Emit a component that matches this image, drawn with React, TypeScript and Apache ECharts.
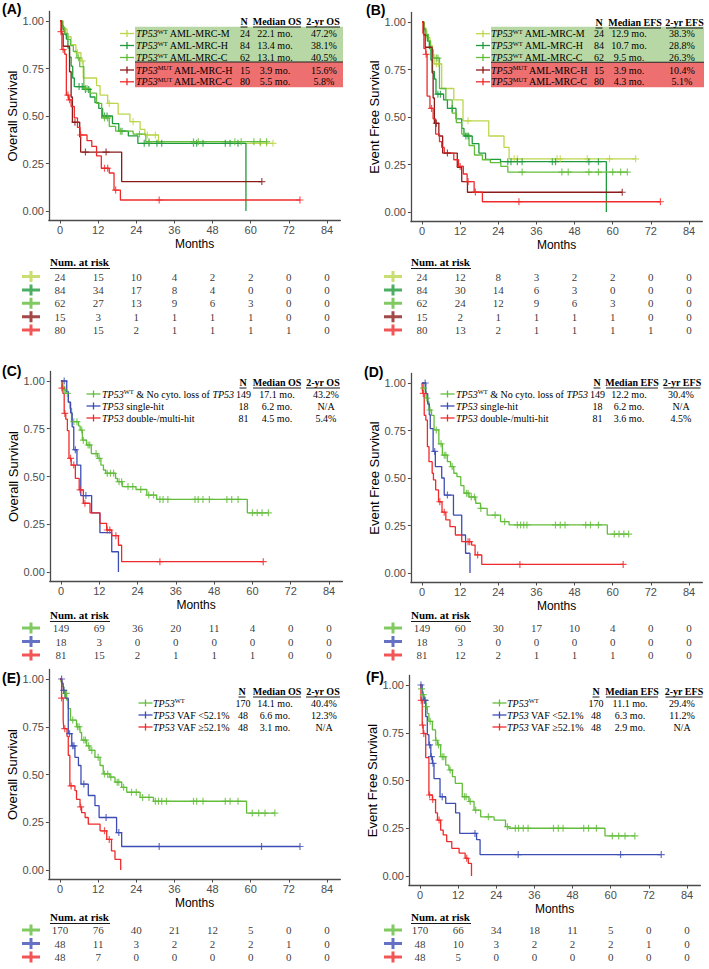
import React, { useEffect, useRef } from "react";
import * as echarts from "echarts";

// ---------- shared ticks ----------
const MONTH_TICKS = [0, 12, 24, 36, 48, 60, 72, 84];
const SURV_TICKS = [0, 0.25, 0.5, 0.75, 1];
const XMIN = -3.5;
const XMAX = 88.2;

// ---------- Panel A (OS by AML-MRC subgroup) ----------
const A_M = [[0,1],[1,0.958],[2.2,0.917],[3.5,0.875],[5,0.833],[6.6,0.79],[7.3,0.70],[11.5,0.66],[12.6,0.61],[15,0.566],[18.3,0.51],[22,0.47],[25.2,0.43],[26.7,0.40],[31,0.356],[67,0.356]];
const A_M_C = [5.5,7,15.5,23,27.5,30,63,65,67];
const A_H = [[0,1],[0.5,0.976],[1,0.952],[1.5,0.929],[2,0.905],[2.5,0.857],[3,0.81],[3.5,0.762],[4,0.70],[4.5,0.655],[7.5,0.64],[9.5,0.60],[11,0.57],[12.2,0.54],[13.4,0.50],[16.5,0.46],[18.5,0.42],[21.5,0.395],[24.5,0.356],[58.5,0]];
const A_H_C = [6,7,8,9,14,14.8,19.5,26.5,28,30.5,32,42,43,45,52,53.5,56];
const A_C = [[0,1],[0.8,0.968],[1.5,0.935],[2.5,0.903],[3.3,0.87],[4.2,0.84],[5.3,0.806],[6.2,0.76],[7.5,0.645],[9.5,0.62],[11.5,0.566],[13.1,0.49],[15.5,0.445],[17.5,0.42],[23,0.405],[27,0.365],[65,0.365]];
const A_C_C = [5.8,8,8.5,14,15,19,25,28,42,43.5,55,57,61,63,65];
const A_MH = [[0,1],[0.5,0.933],[1,0.867],[3,0.733],[3.5,0.6],[3.9,0.467],[6.2,0.39],[6.5,0.31],[19.4,0.155],[63.5,0.155]];
const A_MH_C = [4.7,8,14.5,63.5];
const A_MC = [[0,1],[0.3,0.944],[0.6,0.85],[1.5,0.825],[2,0.61],[2.7,0.585],[3.5,0.55],[4.5,0.49],[5.5,0.44],[6.3,0.40],[8.5,0.37],[10,0.34],[11.5,0.29],[13,0.225],[15.5,0.20],[17,0.11],[19,0.058],[75.5,0.058]];
const A_MC_C = [0.3,1,2.5,3,6.5,14,15,17.5,31.2,75.5];
const A_RISK = [[24,15,10,4,2,2,0,0],[84,34,17,8,4,0,0,0],[62,27,13,9,6,3,0,0],[15,3,1,1,1,1,0,0],[80,15,2,1,1,1,1,0]];
const AB_LABELS = ["{i|TP53}{s|WT}{r| AML-MRC-M}","{i|TP53}{s|WT}{r| AML-MRC-H}","{i|TP53}{s|WT}{r| AML-MRC-C}","{i|TP53}{s|MUT}{r| AML-MRC-H}","{i|TP53}{s|MUT}{r| AML-MRC-C}"];
const AB_N = ["24","84","62","15","80"];
const A_MED = ["22.1 mo.","13.4 mo.","13.1 mo.","3.9 mo.","5.5 mo."];
const A_YR = ["47.2%","38.1%","40.5%","15.6%","5.8%"];

// ---------- Panel B (EFS by AML-MRC subgroup) ----------
const B_M = [[0,1],[0.7,0.958],[1.5,0.917],[2.5,0.875],[3.3,0.83],[3.8,0.78],[6.2,0.65],[10,0.59],[12.9,0.48],[21,0.40],[25.8,0.34],[27.4,0.28],[67.2,0.28]];
const B_M_C = [4.5,5.2,14.5,29,30,42.5,43.5,52,59,67.2];
const B_H = [[0,1],[0.5,0.964],[1,0.93],[1.7,0.9],[2.3,0.86],[2.8,0.80],[3.3,0.74],[3.9,0.70],[4.4,0.62],[6.8,0.59],[8,0.545],[10.7,0.49],[12.5,0.44],[13.2,0.40],[15.8,0.36],[17.9,0.31],[20,0.277],[24.7,0.265],[58,0]];
const B_H_C = [5,5.8,9.5,13.8,14.5,27,28,30,31.5,41,42,52.5,55.5];
const B_C = [[0,1],[0.6,0.968],[1.2,0.935],[2,0.90],[2.7,0.855],[3.5,0.81],[5.5,0.65],[7.5,0.59],[9.5,0.52],[10.8,0.47],[12.5,0.41],[14.8,0.35],[16.5,0.30],[19,0.275],[21.5,0.26],[24.8,0.24],[27,0.21],[64.6,0.21]];
const B_C_C = [4.5,5,31.5,44,46,52.5,55.5,60,62.5,64.6];
const B_MH = [[0,1],[0.5,0.933],[1,0.867],[3.2,0.733],[3.5,0.6],[3.9,0.467],[5.3,0.40],[6.5,0.31],[11.1,0.235],[12.5,0.16],[14.3,0.104],[63,0.104]];
const B_MH_C = [4.5,8,63];
const B_MC = [[0,1],[0.3,0.94],[0.6,0.86],[1.2,0.83],[1.6,0.61],[2.5,0.545],[3.5,0.49],[4.3,0.41],[5.5,0.37],[6.2,0.34],[7,0.31],[10,0.275],[11.5,0.24],[13,0.2],[14.2,0.16],[16.4,0.105],[19,0.054],[75,0.054]];
const B_MC_C = [1.3,3,12,14.5,16.8,30.5,75];
const B_RISK = [[24,12,8,3,2,2,0,0],[84,30,14,6,3,0,0,0],[62,24,12,9,6,3,0,0],[15,2,1,1,1,1,0,0],[80,13,2,1,1,1,1,0]];
const B_MED = ["12.9 mo.","10.7 mo.","9.5 mo.","3.9 mo.","4.3 mo."];
const B_YR = ["38.3%","28.8%","26.3%","10.4%","5.1%"];

// ---------- Panel C (OS by hit status) ----------
const C_G = [[0,1],[0.5,0.973],[1,0.953],[1.5,0.935],[2.3,0.89],[2.8,0.857],[3.3,0.787],[5.5,0.765],[6,0.743],[6.7,0.69],[8,0.665],[9.5,0.62],[11.5,0.595],[12.5,0.56],[13.3,0.534],[14,0.517],[17.1,0.49],[17.7,0.473],[19.2,0.447],[23.5,0.432],[26.9,0.403],[30,0.38],[58.4,0.31],[65,0.31]];
const C_G_C = [1.2,2,4,5,6.5,7,8.5,9,11,12,14.5,15.5,16.5,18.2,19,21,22.5,25,27.5,29,31,32,33.5,42,43,44.5,46.5,52,53.5,55.5,60,61.5,63,65];
const C_B = [[0,1],[1.8,0.944],[2.3,0.889],[3,0.833],[3.5,0.76],[4,0.64],[5,0.56],[6.2,0.40],[9.6,0.31],[12.2,0.206],[15.9,0.106],[18,0]];
const C_B_C = [1,4.5,7.8];
const C_R = [[0,1],[0.3,0.963],[0.6,0.935],[1,0.83],[1.5,0.80],[2,0.74],[2.5,0.595],[3.2,0.56],[4.5,0.49],[5.7,0.43],[7,0.36],[9.1,0.31],[12.2,0.255],[14.3,0.22],[15.9,0.19],[18,0.14],[19,0.054],[63.4,0.054]];
const C_R_C = [0.3,1.2,3,4,6,7.5,14.5,15.3,17.2,31,63.4];
const C_RISK = [[149,69,36,20,11,4,0,0],[18,3,0,0,0,0,0,0],[81,15,2,1,1,1,0,0]];
const CD_LABELS = ["{i|TP53}{s|WT}{r| & No cyto. loss of }{i|TP53}","{i|TP53}{r| single-hit}","{i|TP53}{r| double-/multi-hit}"];
const CD_N = ["149","18","81"];
const C_MED = ["17.1 mo.","6.2 mo.","4.5 mo."];
const C_YR = ["43.2%","N/A","5.4%"];

// ---------- Panel D (EFS by hit status) ----------
const D_G = [[0,1],[0.5,0.973],[1,0.954],[1.3,0.92],[1.8,0.90],[2.2,0.858],[3,0.83],[3.8,0.753],[5.3,0.68],[6.4,0.62],[8,0.586],[9,0.56],[10,0.525],[11,0.507],[12.2,0.46],[13.2,0.42],[14.8,0.40],[16.9,0.367],[18.4,0.34],[20.5,0.305],[24.7,0.27],[27.4,0.253],[58.3,0.205],[65,0.205]];
const D_G_C = [0.5,1.5,2.5,4.5,6,7,7.5,9.5,14,14.5,15.5,16.5,18.5,23,26,30,31,32,33,42,43.5,45,51.5,53,55.5,60.5,62,63.5,65];
const D_B = [[0,1],[1.2,0.944],[1.8,0.889],[2.3,0.833],[2.6,0.76],[3.5,0.64],[4.2,0.56],[6.2,0.50],[7,0.41],[9.9,0.305],[12.5,0.2],[13.7,0.104],[15.1,0]];
const D_B_C = [1,4,8];
const D_R = [[0,1],[0.1,0.963],[0.3,0.945],[0.7,0.83],[1.2,0.805],[1.7,0.665],[2.2,0.586],[3.2,0.525],[3.6,0.49],[4.3,0.437],[5.2,0.375],[6.3,0.32],[7.5,0.28],[8.8,0.244],[10.5,0.2],[12.5,0.165],[15.6,0.147],[16.7,0.095],[18.8,0.045],[63.3,0.045]];
const D_R_C = [0.4,5.6,7,14.5,15,17.5,30.8,63.3];
const D_RISK = [[149,60,30,17,10,4,0,0],[18,3,0,0,0,0,0,0],[81,12,2,1,1,1,0,0]];
const D_MED = ["12.2 mo.","6.2 mo.","3.6 mo."];
const D_YR = ["30.4%","N/A","4.5%"];

// ---------- Panel E (OS by VAF) ----------
const E_G = [[0,1],[0.3,0.985],[0.8,0.96],[1.2,0.925],[2.1,0.89],[2.6,0.845],[3.3,0.785],[5.2,0.75],[6.3,0.72],[6.8,0.68],[8.4,0.65],[9.4,0.626],[11,0.59],[12.6,0.547],[13.6,0.503],[15.7,0.486],[17.3,0.46],[19.4,0.433],[21,0.407],[25.2,0.38],[29.4,0.36],[58.7,0.298],[67.6,0.298]];
const E_G_C = [1.5,2,4,5.5,6,7.5,8,9,10,12,14,15,16,18,18.5,20,22.5,24,26,28,30,31,32,33.5,42,43,45,52,53.5,56,60.5,62.5,64.5,67.6];
const E_B = [[0,1],[0.6,0.977],[1,0.94],[1.6,0.9],[2.6,0.714],[3.7,0.65],[4.7,0.59],[5.8,0.547],[6.6,0.45],[8.9,0.39],[11,0.337],[12.3,0.275],[17.8,0.196],[19.4,0.123],[75.5,0.123]];
const E_B_C = [0.5,1.2,3,4,4.4,7.5,14.5,18.5,31.2,63.4,75.5];
const E_R = [[0,1],[0.5,0.9],[1,0.785],[1.2,0.74],[2.2,0.70],[2.6,0.6],[3.1,0.44],[4.7,0.416],[5.2,0.37],[6.3,0.33],[6.8,0.30],[7.9,0.275],[8.9,0.24],[12.6,0.205],[14.7,0.16],[16.2,0.1],[17.3,0.056],[19.1,0]];
const E_R_C = [0.5,1.5,3.5,6.5,14,15.5];
const E_RISK = [[170,76,40,21,12,5,0,0],[48,11,3,2,2,2,1,0],[48,7,0,0,0,0,0,0]];
const EF_LABELS = ["{i|TP53}{s|WT}","{i|TP53}{r| VAF <52.1%}","{i|TP53}{r| VAF ≥52.1%}"];
const EF_N = ["170","48","48"];
const E_MED = ["14.1 mo.","6.6 mo.","3.1 mo."];
const E_YR = ["40.4%","12.3%","N/A"];

// ---------- Panel F (EFS by VAF) ----------
const F_G = [[0,1],[0.4,0.98],[0.8,0.95],[1.3,0.92],[1.8,0.887],[2.3,0.85],[2.8,0.81],[3.9,0.765],[4.9,0.71],[5.5,0.686],[6.5,0.625],[8.1,0.58],[9.1,0.555],[10.2,0.52],[11.1,0.485],[13.3,0.415],[15.4,0.39],[17,0.345],[19.1,0.31],[23.3,0.293],[26.9,0.258],[28,0.25],[58.2,0.21],[67.6,0.21]];
const F_G_C = [0.5,1,1.5,2,3.2,5,5.8,7,7.5,9.5,14,14.5,15.8,17.5,21.5,27.5,30,31,32.5,34,42,43.5,45,51.5,53,55.5,60.5,62.5,64.5,67.6];
const F_B = [[0,1],[0.7,0.958],[1,0.92],[1.8,0.835],[2.3,0.74],[2.8,0.686],[3.4,0.625],[3.9,0.59],[4.4,0.51],[6.3,0.415],[8.1,0.38],[11.2,0.33],[12.5,0.223],[17.8,0.19],[18.9,0.112],[75.9,0.112]];
const F_B_C = [0.3,1.3,1.6,3,3.6,4.1,7,17.3,30.9,63.1,75.9];
const F_R = [[0,1],[0.3,0.92],[0.7,0.79],[1,0.746],[1.8,0.62],[2.8,0.424],[3.9,0.40],[4.9,0.33],[5.5,0.293],[6.5,0.24],[7.3,0.215],[8.4,0.18],[10,0.145],[12.3,0.12],[14.2,0.093],[15.2,0.066],[16.2,0]];
const F_R_C = [0.4,0.8,1.2,3,4,6,14.7];
const F_RISK = [[170,66,34,18,11,5,0,0],[48,10,3,2,2,2,1,0],[48,5,0,0,0,0,0,0]];
const F_MED = ["11.1 mo.","6.3 mo.","2.9 mo."];
const F_YR = ["29.4%","11.2%","N/A"];

// ---------- styles ----------
const SANS = '"Liberation Sans", Arial, sans-serif';
const SERIF = '"Liberation Serif", "Times New Roman", serif';
const C_LIGHT = "#bcd64c";
const C_DARKG = "#1f9a3c";
const C_MIDG = "#62bd3a";
const C_DARKR = "#8c1b1b";
const C_RED = "#ef2a2a";
const C_BLUE = "#3d4db5";
const BG_GREEN = "#b7d8a4";
const BG_RED = "#ee6f6f";
const AXIS_COL = "#4a4a4a";
const PLUS = "path://M2.9,0H4.1V2.9H7V4.1H4.1V7H2.9V4.1H0V2.9H2.9Z";
const RISK_MARK = "path://M0,4H7.5V0H10.5V4H18V7H10.5V11H7.5V7H0Z";

const RICH = {
  i: { fontFamily: SERIF, fontStyle: "italic", fontSize: 10, lineHeight: 12, fill: "#000" },
  s: { fontFamily: SERIF, fontSize: 6.5, verticalAlign: "top", fill: "#000" },
  r: { fontFamily: SERIF, fontSize: 10, lineHeight: 12, fill: "#000" },
};

function survAt(pts: number[][], t: number) {
  let s = pts[0][1];
  for (const p of pts) {
    if (p[0] <= t) s = p[1];
    else break;
  }
  return s;
}

const panels: any[] = [
  {
    tag: "(A)", lx: 2, ly: 9, x0: 60, x84: 327, y1: 21, y0: 211, yTitle: "Overall Survival",
    curves: [
      { pts: A_M, cens: A_M_C, color: C_LIGHT }, { pts: A_H, cens: A_H_C, color: C_DARKG },
      { pts: A_C, cens: A_C_C, color: C_MIDG }, { pts: A_MH, cens: A_MH_C, color: C_DARKR },
      { pts: A_MC, cens: A_MC_C, color: C_RED },
    ],
    risk: A_RISK, rowY0: 276.5, rowStep: 13.4, rtx: 50, rty: 262, mkX: 31,
    lg: { hy: 21, rows: [33.5, 45.5, 57.5, 70, 81.8], mk: 127, tx: 136, hdr: [244, 277, 323], val: [245, 275, 324], hw: [7, 48, 34],
      head: ["N", "Median OS", "2-yr OS"], labels: AB_LABELS, n: AB_N, med: A_MED, yr: A_YR,
      bg: { x1: 135, x2: 343, y1: 26.7, ys: 62, y2: 87.3 } },
  },
  {
    tag: "(B)", lx: 366, ly: 10, x0: 422, x84: 689, y1: 22, y0: 212, yTitle: "Event Free Survival",
    curves: [
      { pts: B_M, cens: B_M_C, color: C_LIGHT }, { pts: B_H, cens: B_H_C, color: C_DARKG },
      { pts: B_C, cens: B_C_C, color: C_MIDG }, { pts: B_MH, cens: B_MH_C, color: C_DARKR },
      { pts: B_MC, cens: B_MC_C, color: C_RED },
    ],
    risk: B_RISK, rowY0: 276.5, rowStep: 13.4, rtx: 411, rty: 262, mkX: 393,
    lg: { hy: 22, rows: [33.7, 45.5, 57.5, 70, 81.8], mk: 483, tx: 491, hdr: [599, 635, 684.5], val: [599, 629, 682], hw: [7, 52, 37],
      head: ["N", "Median EFS", "2-yr EFS"], labels: AB_LABELS, n: AB_N, med: B_MED, yr: B_YR,
      bg: { x1: 491, x2: 704, y1: 26.7, ys: 62.3, y2: 87.3 } },
  },
  {
    tag: "(C)", lx: 2, ly: 371, x0: 61, x84: 329, y1: 381, y0: 572, yTitle: "Overall Survival",
    curves: [
      { pts: C_G, cens: C_G_C, color: C_MIDG }, { pts: C_B, cens: C_B_C, color: C_BLUE },
      { pts: C_R, cens: C_R_C, color: C_RED },
    ],
    risk: C_RISK, rowY0: 628, rowStep: 13.5, rtx: 50, rty: 615, mkX: 31,
    lg: { hy: 382, rows: [394, 406, 418], mk: 93.5, tx: 102, hdr: [243, 277, 323], val: [243.5, 277, 326], hw: [7, 48, 34],
      head: ["N", "Median OS", "2-yr OS"], labels: CD_LABELS, n: CD_N, med: C_MED, yr: C_YR },
  },
  {
    tag: "(D)", lx: 364, ly: 372, x0: 422, x84: 689, y1: 383, y0: 573, yTitle: "Event Free Survival",
    curves: [
      { pts: D_G, cens: D_G_C, color: C_MIDG }, { pts: D_B, cens: D_B_C, color: C_BLUE },
      { pts: D_R, cens: D_R_C, color: C_RED },
    ],
    risk: D_RISK, rowY0: 628, rowStep: 13.5, rtx: 411, rty: 615, mkX: 393,
    lg: { hy: 382, rows: [394, 406, 418], mk: 447.5, tx: 456, hdr: [597, 632, 682], val: [597.5, 629, 681], hw: [7, 52, 37],
      head: ["N", "Median EFS", "2-yr EFS"], labels: CD_LABELS, n: CD_N, med: D_MED, yr: D_YR },
  },
  {
    tag: "(E)", lx: 2, ly: 678, x0: 60, x84: 327, y1: 679, y0: 870, yTitle: "Overall Survival",
    curves: [
      { pts: E_G, cens: E_G_C, color: C_MIDG }, { pts: E_B, cens: E_B_C, color: C_BLUE },
      { pts: E_R, cens: E_R_C, color: C_RED },
    ],
    risk: E_RISK, rowY0: 930, rowStep: 13.5, rtx: 50, rty: 917, mkX: 31,
    lg: { hy: 691, rows: [703, 715, 727], mk: 145.5, tx: 153, hdr: [242, 277, 323], val: [243, 275, 324], hw: [7, 48, 34],
      head: ["N", "Median OS", "2-yr OS"], labels: EF_LABELS, n: EF_N, med: E_MED, yr: E_YR },
  },
  {
    tag: "(F)", lx: 366, ly: 677, x0: 420, x84: 687, y1: 685, y0: 876, yTitle: "Event Free Survival",
    curves: [
      { pts: F_G, cens: F_G_C, color: C_MIDG }, { pts: F_B, cens: F_B_C, color: C_BLUE },
      { pts: F_R, cens: F_R_C, color: C_RED },
    ],
    risk: F_RISK, rowY0: 930, rowStep: 13.5, rtx: 411, rty: 917, mkX: 393,
    lg: { hy: 691, rows: [703, 715, 727], mk: 499.5, tx: 507, hdr: [596, 632, 684], val: [596, 630, 682], hw: [7, 52, 37],
      head: ["N", "Median EFS", "2-yr EFS"], labels: EF_LABELS, n: EF_N, med: F_MED, yr: F_YR },
  },
];

function txt(x: number, y: number, text: string, opts: any = {}) {
  return {
    type: "text", x, y, z: 10,
    style: {
      text, fill: "#000", fontFamily: SERIF, fontSize: 10,
      align: "center", verticalAlign: "middle", ...opts,
    },
  };
}
function ln(x1: number, y1: number, x2: number, y2: number, color: string, w: number, z = 10) {
  return { type: "line", z, shape: { x1, y1, x2, y2 }, style: { stroke: color, lineWidth: w } };
}

function buildOption() {
  const grid: any[] = [];
  const xAxis: any[] = [];
  const yAxis: any[] = [];
  const series: any[] = [];
  const graphic: any[] = [];

  panels.forEach((p) => {
    const ppm = (p.x84 - p.x0) / 84;
    const span = p.y0 - p.y1;
    const left = p.x0 + XMIN * ppm;
    const width = (XMAX - XMIN) * ppm;
    const gi = grid.length;
    grid.push({ left, top: p.y1 - 0.05 * span, width, height: 1.1 * span });
    xAxis.push({
      gridIndex: gi, type: "value", min: XMIN, max: XMAX,
      axisLine: { show: true, onZero: false, lineStyle: { color: AXIS_COL, width: 1.3 } },
      axisTick: { show: true, length: 3, customValues: MONTH_TICKS, lineStyle: { color: AXIS_COL, width: 1 } },
      axisLabel: { customValues: MONTH_TICKS, color: "#4d4d4d", fontSize: 11, fontFamily: SANS, margin: 4 },
      splitLine: { show: false },
      name: "Months", nameLocation: "middle", nameGap: 17,
      nameTextStyle: { color: "#000", fontSize: 12, fontFamily: SANS },
    });
    yAxis.push({
      gridIndex: gi, type: "value", min: -0.05, max: 1.05,
      axisLine: { show: true, onZero: false, lineStyle: { color: AXIS_COL, width: 1.3 } },
      axisTick: { show: true, length: 3, customValues: SURV_TICKS, lineStyle: { color: AXIS_COL, width: 1 } },
      axisLabel: { customValues: SURV_TICKS, color: "#4d4d4d", fontSize: 11, fontFamily: SANS, margin: 5,
        formatter: (v: number) => v.toFixed(2) },
      splitLine: { show: false },
      name: p.yTitle, nameLocation: "middle", nameGap: 27,
      nameTextStyle: { color: "#000", fontSize: 13, fontFamily: SANS },
    });
    p.curves.forEach((c: any) => {
      series.push({
        type: "line", xAxisIndex: gi, yAxisIndex: gi, data: c.pts, step: "end",
        showSymbol: false, symbol: "none", silent: true, animation: false,
        lineStyle: { color: c.color, width: 1.3 }, z: 3,
      });
      series.push({
        type: "scatter", xAxisIndex: gi, yAxisIndex: gi, silent: true, animation: false,
        data: c.cens.map((t: number) => [t, survAt(c.pts, t)]),
        symbol: PLUS, symbolSize: 7, itemStyle: { color: c.color }, z: 4,
      });
    });

    // risk table grid
    const ri = grid.length;
    const nRows = p.risk.length;
    grid.push({ left, width, top: p.rowY0 - p.rowStep / 2, height: p.rowStep * nRows });
    xAxis.push({ gridIndex: ri, type: "value", min: XMIN, max: XMAX, show: false });
    yAxis.push({ gridIndex: ri, type: "category", data: p.risk.map((_: any, i: number) => String(i)), inverse: true, show: false });
    const riskData: any[] = [];
    p.risk.forEach((row: number[], r: number) => {
      row.forEach((v, i) => riskData.push([MONTH_TICKS[i], r, v]));
    });
    series.push({
      type: "scatter", xAxisIndex: ri, yAxisIndex: ri, silent: true, animation: false,
      data: riskData, symbolSize: 1, itemStyle: { color: "rgba(0,0,0,0)" },
      label: { show: true, position: "inside", color: "#000", fontFamily: SERIF, fontSize: 11,
        formatter: (q: any) => String(q.value[2]) },
    });
    const mkMonth = (p.mkX - p.x0) / ppm;
    series.push({
      type: "scatter", xAxisIndex: ri, yAxisIndex: ri, silent: true, animation: false, clip: false,
      data: p.curves.map((c: any, r: number) => ({ value: [mkMonth, r], itemStyle: { color: c.color } })),
      symbol: RISK_MARK, symbolSize: [18, 11],
    });

    // panel tag
    graphic.push(txt(p.lx, p.ly, p.tag, { align: "left", fontFamily: SANS, fontWeight: "bold", fontSize: 14 }));
    // Num. at risk
    graphic.push(txt(p.rtx, p.rty, "Num. at risk", { align: "left", fontWeight: "bold", fontSize: 11 }));
    graphic.push(ln(p.rtx, p.rty + 6.5, p.rtx + 60, p.rty + 6.5, "#000", 0.9));

    // legend table
    const L = p.lg;
    if (L.bg) {
      graphic.push({ type: "rect", z: 1, shape: { x: L.bg.x1, y: L.bg.y1, width: L.bg.x2 - L.bg.x1, height: L.bg.ys - L.bg.y1 }, style: { fill: BG_GREEN } });
      graphic.push({ type: "rect", z: 1, shape: { x: L.bg.x1, y: L.bg.ys, width: L.bg.x2 - L.bg.x1, height: L.bg.y2 - L.bg.ys }, style: { fill: BG_RED } });
      graphic.push(ln(L.bg.x1, L.bg.ys, L.bg.x2, L.bg.ys, "#222", 1.1, 2));
    }
    L.head.forEach((h: string, k: number) => {
      graphic.push(txt(L.hdr[k], L.hy, h, { fontWeight: "bold" }));
      graphic.push(ln(L.hdr[k] - L.hw[k] / 2, L.hy + 6, L.hdr[k] + L.hw[k] / 2, L.hy + 6, "#000", 0.9));
    });
    L.rows.forEach((y: number, r: number) => {
      const col = p.curves[r].color;
      graphic.push(ln(L.mk - 7, y, L.mk + 7, y, col, 1.3));
      graphic.push(ln(L.mk, y - 3.5, L.mk, y + 3.5, col, 1.3));
      graphic.push({
        type: "text", x: L.tx, y, z: 10,
        style: { text: L.labels[r], rich: RICH, align: "left", verticalAlign: "middle", fontFamily: SERIF, fontSize: 10, fill: "#000" },
      });
      graphic.push(txt(L.val[0], y, L.n[r]));
      graphic.push(txt(L.val[1], y, L.med[r]));
      graphic.push(txt(L.val[2], y, L.yr[r]));
    });
  });

  return {
    animation: false,
    backgroundColor: "#fff",
    grid, xAxis, yAxis, series,
    graphic: { elements: graphic },
  };
}

export default function App() {
  const ref = useRef<HTMLDivElement>(null);
  useEffect(() => {
    const chart = echarts.init(ref.current as HTMLDivElement, null, { renderer: "svg" });
    chart.setOption(buildOption() as any);
    return () => chart.dispose();
  }, []);
  return (
    <div
      ref={ref}
      style={{ position: "absolute", left: 0, top: 0, width: 709, height: 969, background: "#fff" }}
    />
  );
}
